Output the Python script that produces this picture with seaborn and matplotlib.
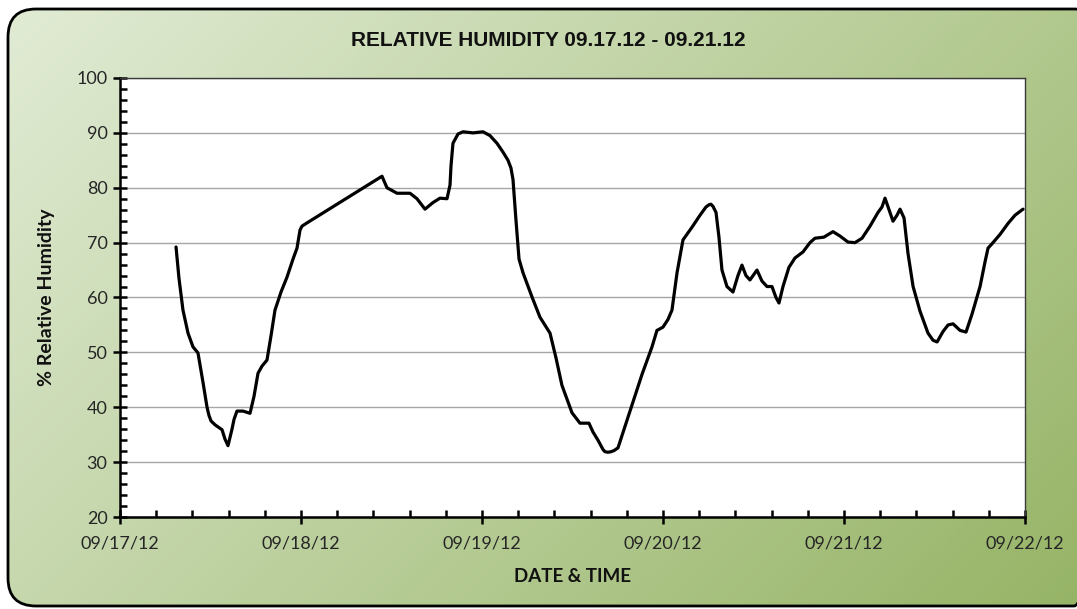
import numpy as np
import pandas as pd
import matplotlib
matplotlib.use('Agg')
import matplotlib.pyplot as plt
import matplotlib.dates as mdates
from matplotlib.patches import FancyBboxPatch
from matplotlib.ticker import MultipleLocator
import seaborn as sns


# hours since 09/17/12 00:00
hours = [
    7.43, 7.82, 8.35, 9.02, 9.68, 10.34, 11.01, 11.54, 11.80, 12.07, 12.60, 13.53,
    13.92, 14.32, 14.59, 14.85, 15.12, 15.51, 16.31, 17.24, 17.77, 18.30, 18.83, 19.49,
    20.02, 20.55, 21.35, 22.14, 22.94, 23.47, 23.87, 24.13, 24.80, 34.74, 35.40, 36.73,
    38.45, 39.38, 40.44, 41.50, 42.43, 43.36, 43.76, 43.89, 44.15, 44.82, 45.48, 46.81,
    48.13, 49.06, 49.99, 50.78, 51.45, 51.84, 52.11, 52.51, 52.91, 53.44, 54.63,
    55.69, 57.02, 57.81, 58.60, 59.93, 60.99, 62.18, 62.71, 63.38, 64.04,
    64.31, 64.70, 65.11, 65.50, 66.03, 66.96, 67.89, 69.22, 70.54, 71.20, 72.00, 72.66,
    73.19, 73.86, 74.65, 75.84, 76.91, 77.70, 78.10, 78.36, 78.63, 79.03, 79.42, 79.82,
    80.48, 81.28, 81.94, 82.47, 83.00, 83.53, 84.46, 85.12, 85.79, 86.45,
    86.98, 87.38, 87.91, 88.70, 89.50, 90.56, 91.49, 92.15, 93.34, 94.54,
    95.47, 96.53, 97.46, 98.39, 99.45, 100.51, 101.04, 101.44, 101.97, 102.50,
    103.03, 103.43, 103.96, 104.49, 105.16, 106.08, 107.14, 107.81, 108.34, 109.13,
    109.80, 110.46, 111.39, 112.18, 112.98, 114.04, 114.70, 115.10, 115.63, 116.69,
    117.75, 118.68, 119.74,
]
humidity = [
    69.2, 63.5, 57.7, 53.5, 51.0, 49.9, 44.5, 40.0, 38.5, 37.5, 36.8, 35.9,
    34.2, 33.0, 34.5, 36.0, 37.8, 39.3, 39.3, 38.9, 42.0, 46.2, 47.5, 48.6,
    53.0, 57.7, 61.0, 63.7, 67.0, 69.0, 72.3, 73.0, 73.6, 82.1, 80.0, 79.0,
    79.0, 78.0, 76.1, 77.3, 78.1, 78.0, 80.5, 84.0, 88.1, 89.8, 90.2, 90.0,
    90.2, 89.5, 88.1, 86.5, 85.0, 83.6, 81.5, 74.0, 67.0, 64.5, 60.1,
    56.4, 53.5, 49.0, 44.0, 39.0, 37.1, 37.1, 35.5, 34.0, 32.3,
    31.9, 31.8, 31.9, 32.1, 32.6, 36.5, 40.4, 46.0, 51.0, 54.0, 54.6, 56.0,
    57.7, 64.5, 70.5, 72.8, 75.0, 76.5, 76.9, 77.0, 76.6, 75.5, 71.0, 65.0,
    62.0, 61.0, 64.0, 65.9, 64.0, 63.2, 65.0, 63.0, 62.0, 62.0,
    60.0, 59.0, 62.0, 65.5, 67.2, 68.3, 70.0, 70.8, 71.0, 72.0,
    71.2, 70.1, 70.0, 70.8, 73.0, 75.5, 76.5, 78.1, 76.0, 73.9,
    75.0, 76.1, 74.5, 68.0, 62.0, 57.5, 53.5, 52.2, 51.9, 53.8,
    55.0, 55.2, 54.0, 53.7, 57.0, 62.0, 66.5, 69.0, 69.8, 71.5,
    73.5, 75.0, 76.1,
]

start = pd.Timestamp('2012-09-17')
end = pd.Timestamp('2012-09-22')
df = pd.DataFrame({
    'time': start + pd.to_timedelta(hours, unit='h'),
    'rh': humidity,
})

sns.set_style('white')
plt.rcParams['font.family'] = ['Lato', 'DejaVu Sans']

W, H = 1077, 609
fig = plt.figure(figsize=(W / 100, H / 100), dpi=100)
fig.patch.set_facecolor('white')

# green gradient panel with rounded corners (right edge runs off the image)
bg = fig.add_axes([0, 0, 1, 1])
bg.set_xlim(0, W)
bg.set_ylim(H, 0)
bg.axis('off')
frame = FancyBboxPatch((8, 9), 1102 - 8, 606 - 9,
                       boxstyle='round,pad=0,rounding_size=28',
                       fc='none', ec='black', lw=2, zorder=3)
bg.add_patch(frame)
gx, gy = np.meshgrid(np.linspace(0, 1, 400), np.linspace(0, 1, 240))
t = (gx * W + gy * H) / (W + H)
c0 = np.array([226, 236, 214]) / 255
c1 = np.array([150, 180, 102]) / 255
rgb = c0[None, None, :] * (1 - t[..., None]) + c1[None, None, :] * t[..., None]
img = bg.imshow(rgb, extent=[0, W, H, 0], aspect='auto', zorder=1)
img.set_clip_path(frame)

# plot area
ax = fig.add_axes([120 / W, 1 - 517 / H, 905 / W, 439 / H])
ax.set_facecolor('white')
sns.lineplot(data=df, x='time', y='rh', ax=ax, color='black', lw=2.3,
             solid_joinstyle='round', solid_capstyle='round', zorder=3)

ax.set_xlim(start, end)
ax.set_ylim(20, 100)
ax.yaxis.set_major_locator(MultipleLocator(10))
ax.yaxis.set_minor_locator(MultipleLocator(2))
ax.xaxis.set_major_locator(mdates.DayLocator())
ax.xaxis.set_major_formatter(mdates.DateFormatter('%m/%d/%y'))
ax.xaxis.set_minor_locator(MultipleLocator(0.2))

ax.grid(axis='y', which='major', color='#a6a6a6', lw=1)
ax.set_axisbelow(True)
for side in ['left', 'bottom']:
    ax.spines[side].set_color('black')
    ax.spines[side].set_linewidth(1.8)
for side in ['top', 'right']:
    ax.spines[side].set_color('#3a3a3a')
    ax.spines[side].set_linewidth(1.0)

ax.tick_params(axis='both', which='both', bottom=True, left=True, top=False, right=False)
ax.tick_params(axis='both', which='major', direction='inout', length=10, width=1.8,
               labelsize=13, colors='black')
ax.tick_params(axis='both', which='minor', direction='in', length=5, width=1.8, colors='black')
ax.tick_params(axis='y', which='major', pad=4)
ax.tick_params(axis='x', which='major', pad=8)
ax.tick_params(labelcolor='#262626')
ax.set_xlabel('')
ax.set_ylabel('')

fig.text(548 / W, 1 - 40 / H, 'RELATIVE HUMIDITY 09.17.12 - 09.21.12',
         ha='center', va='center', fontsize=15, fontweight='bold',
         family=['Liberation Sans Narrow', 'Liberation Sans', 'DejaVu Sans'], color='#111111')
fig.text(47 / W, 1 - 297 / H, '% Relative Humidity', rotation=90,
         ha='center', va='center', fontsize=14, fontweight='bold', color='#111111')
fig.text(572 / W, 1 - 577 / H, 'DATE & TIME',
         ha='center', va='center', fontsize=13.5, fontweight='bold', color='#111111')

fig.savefig('out.png', dpi=100)
